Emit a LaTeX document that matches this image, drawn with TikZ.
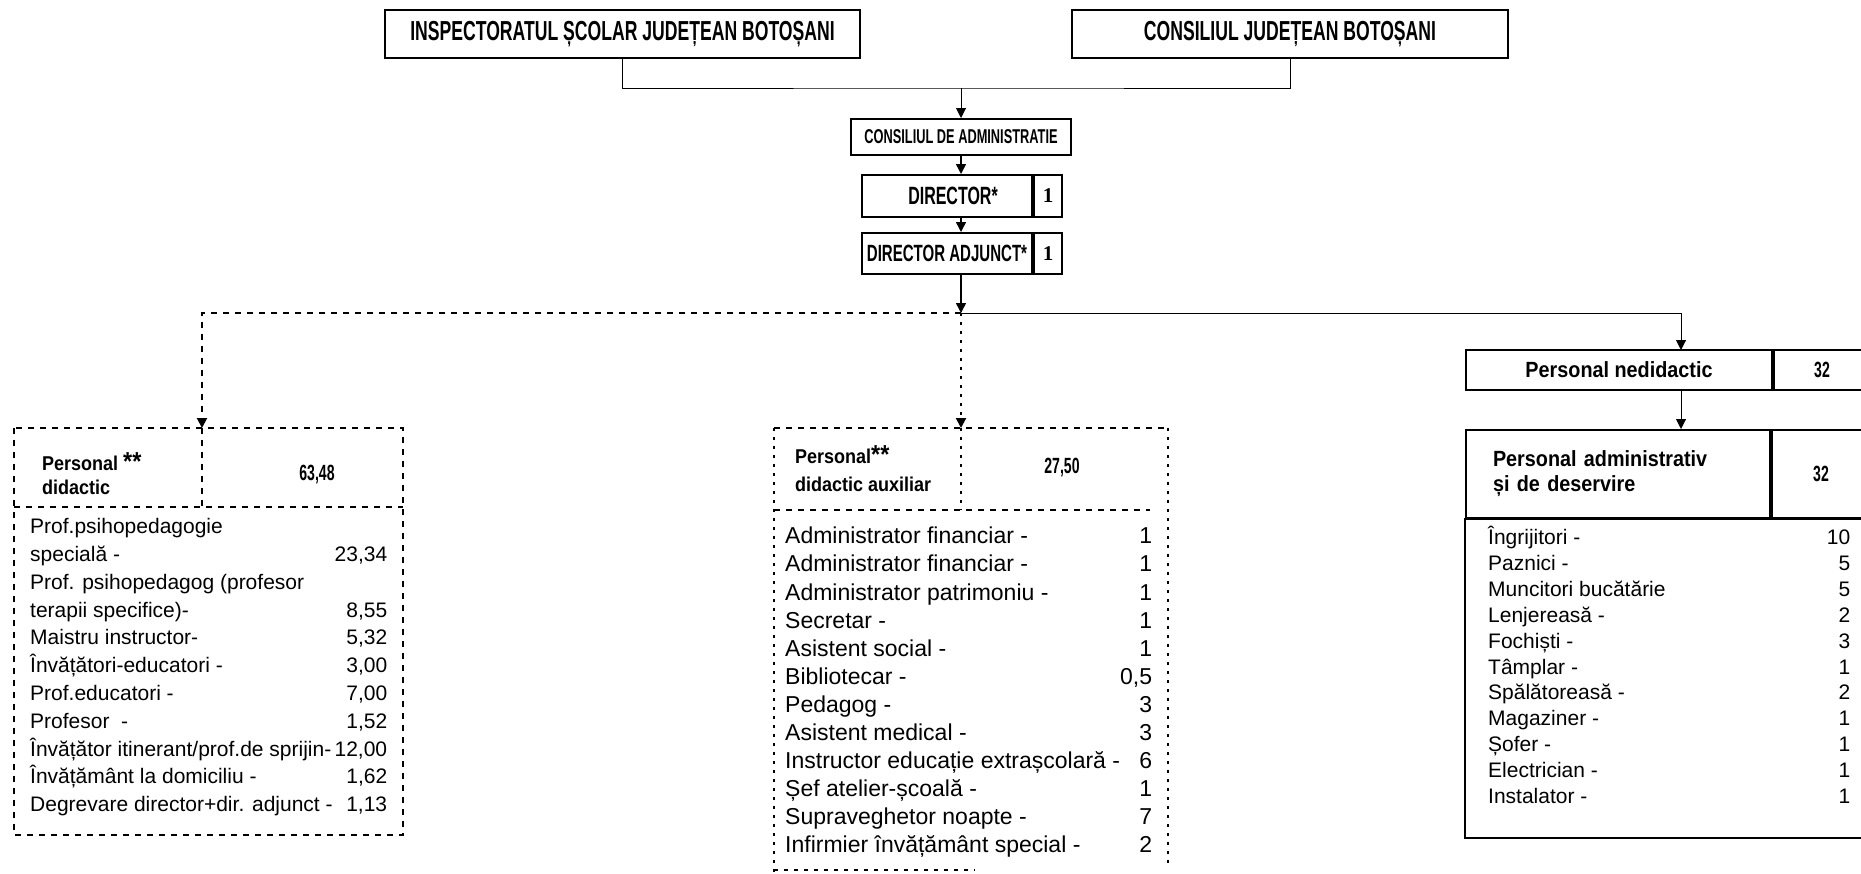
\documentclass[tikz,border=0pt]{standalone}
\usepackage{fontspec}
\setmainfont{Liberation Sans}
\newfontfamily\capsfont[FakeStretch=0.64]{Liberation Sans}
\newfontfamily\headfont[FakeStretch=0.9]{Liberation Sans}
\newfontfamily\nrfont{Liberation Serif}
\usetikzlibrary{positioning,arrows.meta}

\begin{document}
\begin{tikzpicture}[x=1pt, y=-1pt, >={Triangle[length=10pt,width=10pt]},
    cell/.style = {draw, line width=2pt, inner sep=0pt},
    caps/.style = {font=\capsfont\bfseries\fontsize{#1}{#1}\selectfont},
    head/.style args = {#1/#2}{font=\headfont\bfseries\fontsize{#1}{#2}\selectfont, align=left, inner sep=0pt},
    listbox/.style = {inner sep=0pt, anchor=north west},
    thinline/.style = {line width=1pt},
    arrowline/.style = {line width=1.5pt},
    solidline/.style = {line width=2pt},
    dashbox/.style = {line width=2pt, dash pattern=on 6pt off 6pt},
    dotbox/.style = {line width=2pt, dash pattern=on 3pt off 6pt}]

    \useasboundingbox (0,0) rectangle (1861,873);
    \clip (0,0) rectangle (1861,873);

    % conducere
    \node[cell, caps=27.5, minimum width=475, minimum height=48] (isj) at (622.5,34) {INSPECTORATUL ȘCOLAR JUDEȚEAN BOTOȘANI};
    \node[cell, caps=27.5, minimum width=436, minimum height=48] (cjb) at (1290,34) {CONSILIUL JUDEȚEAN BOTOȘANI};
    \node[cell, caps=20, minimum width=220, minimum height=36] (ca) at (961,137) {CONSILIUL DE ADMINISTRATIE};
    \node[cell, caps=25, minimum width=170, minimum height=42] (dir) at (947,196) {\hspace*{12pt}DIRECTOR*};
    \node[cell, minimum width=28, minimum height=42, right=0pt of dir, font=\nrfont\bfseries\fontsize{21}{21}\selectfont] (dirnr) {1};
    \node[cell, caps=23.5, minimum width=170, minimum height=41] (da) at (947,253.5) {DIRECTOR ADJUNCT*};
    \node[cell, minimum width=28, minimum height=41, right=0pt of da, font=\nrfont\bfseries\fontsize{21}{21}\selectfont] (danr) {1};

    \coordinate (topjoin) at (961,88);
    \coordinate (split) at (961,313);
    \coordinate (pdtop) at (202,428);
    \coordinate (pdatop) at (961,428);
    \coordinate (pntop) at (1681,350);

    \draw[thinline] (isj.south) |- (topjoin) -| (cjb.south);
    \draw[thinline, ->] (topjoin) -- (ca);
    \draw[arrowline, ->] (ca) -- (ca |- dir.north);
    \draw[arrowline, ->] (dir.south -| ca) -- (da.north -| ca);
    \draw[arrowline, ->] (da.south -| split) -- (split);
    \draw[dashbox, ->] (split) -| (pdtop);
    \draw[dotbox, ->] (split) -- (pdatop);
    \draw[thinline, ->] (split) -| (pntop);

    % personal didactic
    \draw[dashbox] (14,428) rectangle (403,835);
    \draw[dashbox] (14,507) -- (403,507);
    \draw[dashbox] (pdtop) -- (202,507);
    \node[head=20/24, anchor=west] (pdtitle) at (42,474) {Personal {\fontsize{26}{24}\selectfont **}\\didactic};
    \node[caps=22] (pdnr) at (317,475) {63,48};
    \node[listbox, font=\fontsize{21}{27.8}\selectfont] (pdlist) at (30,514) {%
        \begin{tabular*}{357pt}{@{}l@{\extracolsep{\fill}}r@{}}
        Prof.psihopedagogie & \\
        specială - & 23,34\\
        Prof. psihopedagog (profesor & \\
        terapii specifice)- & 8,55\\
        Maistru instructor- & 5,32\\
        Învățători-educatori - & 3,00\\
        Prof.educatori - & 7,00\\
        Profesor\ \ - & 1,52\\
        Învățător itinerant/prof.de sprijin- & 12,00\\
        Învățământ la domiciliu - & 1,62\\
        Degrevare director+dir. adjunct - & 1,13
        \end{tabular*}};

    % personal didactic auxiliar
    \draw[dashbox] (774,428) -- (1168,428);
    \draw[dotbox] (774,428) -- (774,873);
    \draw[dotbox] (1168,428) -- (1168,863);
    \draw[dashbox] (774,510) -- (1150,510);
    \draw[dotbox] (pdatop) -- (961,510);
    \draw[line width=1.5pt, dash pattern=on 4pt off 6pt] (774,870) -- (975,870);
    \node[head=20/28, anchor=west] (pdatitle) at (795,469) {Personal{\fontsize{26}{24}\selectfont **}\\didactic auxiliar};
    \node[caps=22] (pdanr) at (1062,468) {27,50};
    \node[listbox, font=\fontsize{23}{28.1}\selectfont] (pdalist) at (785,524) {%
        \begin{tabular*}{363pt}{@{}l@{\extracolsep{\fill}}r@{}}
        Administrator financiar - & 1\\
        Administrator financiar - & 1\\
        Administrator patrimoniu - & 1\\
        Secretar - & 1\\
        Asistent social - & 1\\
        Bibliotecar - & 0,5\\
        Pedagog - & 3\\
        Asistent medical - & 3\\
        Instructor educație extrașcolară - & 6\\
        Șef atelier-școală - & 1\\
        Supraveghetor noapte - & 7\\
        Infirmier învățământ special - & 2
        \end{tabular*}};

    % personal nedidactic
    \node[cell, head=22/25, minimum width=306, minimum height=40] (pn) at (1619,370) {Personal nedidactic};
    \node[cell, caps=22, minimum width=96, minimum height=40, right=0pt of pn] (pnnr) {32};
    \node[cell, head=22/25, minimum width=304, minimum height=88,
          text width=250, inner xsep=27pt] (pa) at (1618,474) {Personal administrativ\\și de deservire};
    \node[cell, caps=22, minimum width=98, minimum height=88, right=0pt of pa] (panr) {32};
    \draw[thinline, ->] (pn.south -| pntop) -- (pa.north -| pntop);
    \draw[solidline] (pa.south west) rectangle (1868,838);
    \node[listbox, font=\fontsize{21}{25.9}\selectfont] (palist) at (1488,526) {%
        \begin{tabular*}{362pt}{@{}l@{\extracolsep{\fill}}r@{}}
        Îngrijitori - & 10\\
        Paznici - & 5\\
        Muncitori bucătărie & 5\\
        Lenjereasă - & 2\\
        Fochiști - & 3\\
        Tâmplar - & 1\\
        Spălătoreasă - & 2\\
        Magaziner - & 1\\
        Șofer - & 1\\
        Electrician - & 1\\
        Instalator - & 1
        \end{tabular*}};

\end{tikzpicture}
\end{document}
